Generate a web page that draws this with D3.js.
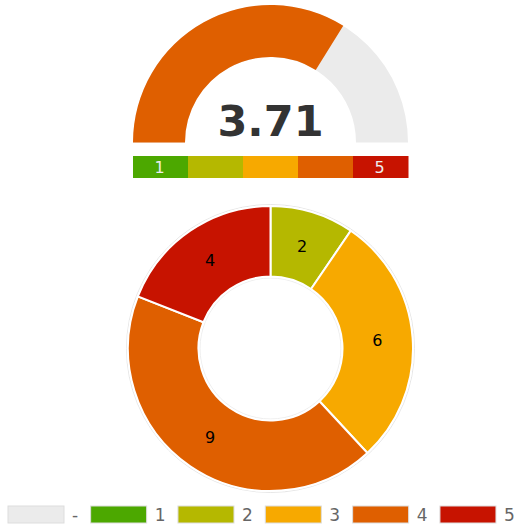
<!DOCTYPE html>
<html>
<head>
<meta charset="utf-8">
<script src="https://cdn.jsdelivr.net/npm/d3@7"></script>
<style>
  body { margin: 0; background: #fff; }
  svg { font-family: "DejaVu Sans", sans-serif; }
</style>
</head>
<body>
<div id="chart"></div>
<script>
// data
const gaugeValue = 3.71;
const gaugeMin = 1, gaugeMax = 5;
const categories = ["-", "1", "2", "3", "4", "5"];
const counts = [0, 0, 2, 6, 9, 4];
const colors = ["#ebebeb", "#4ca800", "#b5b800", "#f7a900", "#df5f00", "#c71300"];
const scaleLabels = ["1", "", "", "", "5"];

const W = 520, H = 529;
const svg = d3.select("#chart").append("svg")
    .attr("width", W).attr("height", H);

// gauge
const gCx = 270.5, gCy = 142.5, gOuter = 137.5, gInner = 85.5;
const gauge = svg.append("g").attr("transform", `translate(${gCx},${gCy})`);
const angle = d3.scaleLinear().domain([gaugeMin, gaugeMax]).range([-Math.PI / 2, Math.PI / 2]);
const gArc = d3.arc().innerRadius(gInner).outerRadius(gOuter);

gauge.append("path")
    .attr("d", gArc({startAngle: angle(gaugeMin), endAngle: angle(gaugeMax)}))
    .attr("fill", colors[0]);
gauge.append("path")
    .attr("d", gArc({startAngle: angle(gaugeMin), endAngle: angle(gaugeValue)}))
    .attr("fill", colors[4]);
gauge.append("text")
    .attr("x", 0).attr("y", -7)
    .attr("text-anchor", "middle")
    .attr("font-size", 43).attr("font-weight", "bold")
    .attr("fill", "#333")
    .text(gaugeValue.toFixed(2));

// colour scale under gauge
const sx = d3.scaleBand().domain(d3.range(5)).range([gCx - gOuter, gCx + gOuter]);
const scaleG = svg.append("g").attr("transform", "translate(0,156)");
scaleG.selectAll("rect").data(d3.range(5)).enter().append("rect")
    .attr("x", d => sx(d)).attr("y", 0)
    .attr("width", sx.bandwidth() + 0.5).attr("height", 22)
    .attr("fill", d => colors[d + 1]);
scaleG.selectAll("text").data(d3.range(5)).enter().append("text")
    .attr("x", d => sx(d) + sx.bandwidth() / 2 - 1).attr("y", 17)
    .attr("text-anchor", "middle")
    .attr("font-size", 16).attr("fill", "#eee")
    .text(d => scaleLabels[d]);

// donut
const dCx = 270.5, dCy = 348.5, dOuter = 142.5, dInner = 72;
const donut = svg.append("g").attr("transform", `translate(${dCx},${dCy})`);
const pie = d3.pie().sort(null).value(d => d.v);
const pieData = pie(categories.map((c, i) => ({c: c, v: counts[i], color: colors[i]})));
const dArc = d3.arc().innerRadius(dInner).outerRadius(dOuter);
const lArc = d3.arc().innerRadius((dInner + dOuter) / 2).outerRadius((dInner + dOuter) / 2);

donut.append("circle").attr("r", dOuter + 1.5)
    .attr("fill", "none").attr("stroke", "#e6e6e6").attr("stroke-width", 1);
donut.append("circle").attr("r", dInner - 1.5)
    .attr("fill", "none").attr("stroke", "#eeeeee").attr("stroke-width", 1);

donut.selectAll("path").data(pieData.filter(d => d.data.v > 0)).enter().append("path")
    .attr("d", dArc)
    .attr("fill", d => d.data.color)
    .attr("stroke", "#fff").attr("stroke-width", 2);

donut.selectAll("text").data(pieData.filter(d => d.data.v > 0)).enter().append("text")
    .attr("transform", d => `translate(${lArc.centroid(d)})`)
    .attr("dy", "0.36em")
    .attr("text-anchor", "middle")
    .attr("font-size", 16).attr("fill", "#000")
    .text(d => d.data.v);

// legend
const legend = svg.append("g").attr("transform", "translate(0,506)");
let lx = 8;
categories.forEach((c, i) => {
    const item = legend.append("g");
    item.append("rect")
        .attr("x", lx).attr("y", 0).attr("width", 56).attr("height", 17)
        .attr("fill", colors[i])
        .attr("stroke", "#ddd").attr("stroke-width", 1);
    const t = item.append("text")
        .attr("x", lx + 64).attr("y", 15)
        .attr("font-size", 17).attr("fill", "#666")
        .text(c);
    lx = lx + 64 + t.node().getComputedTextLength() + 12.5;
});
</script>
</body>
</html>
